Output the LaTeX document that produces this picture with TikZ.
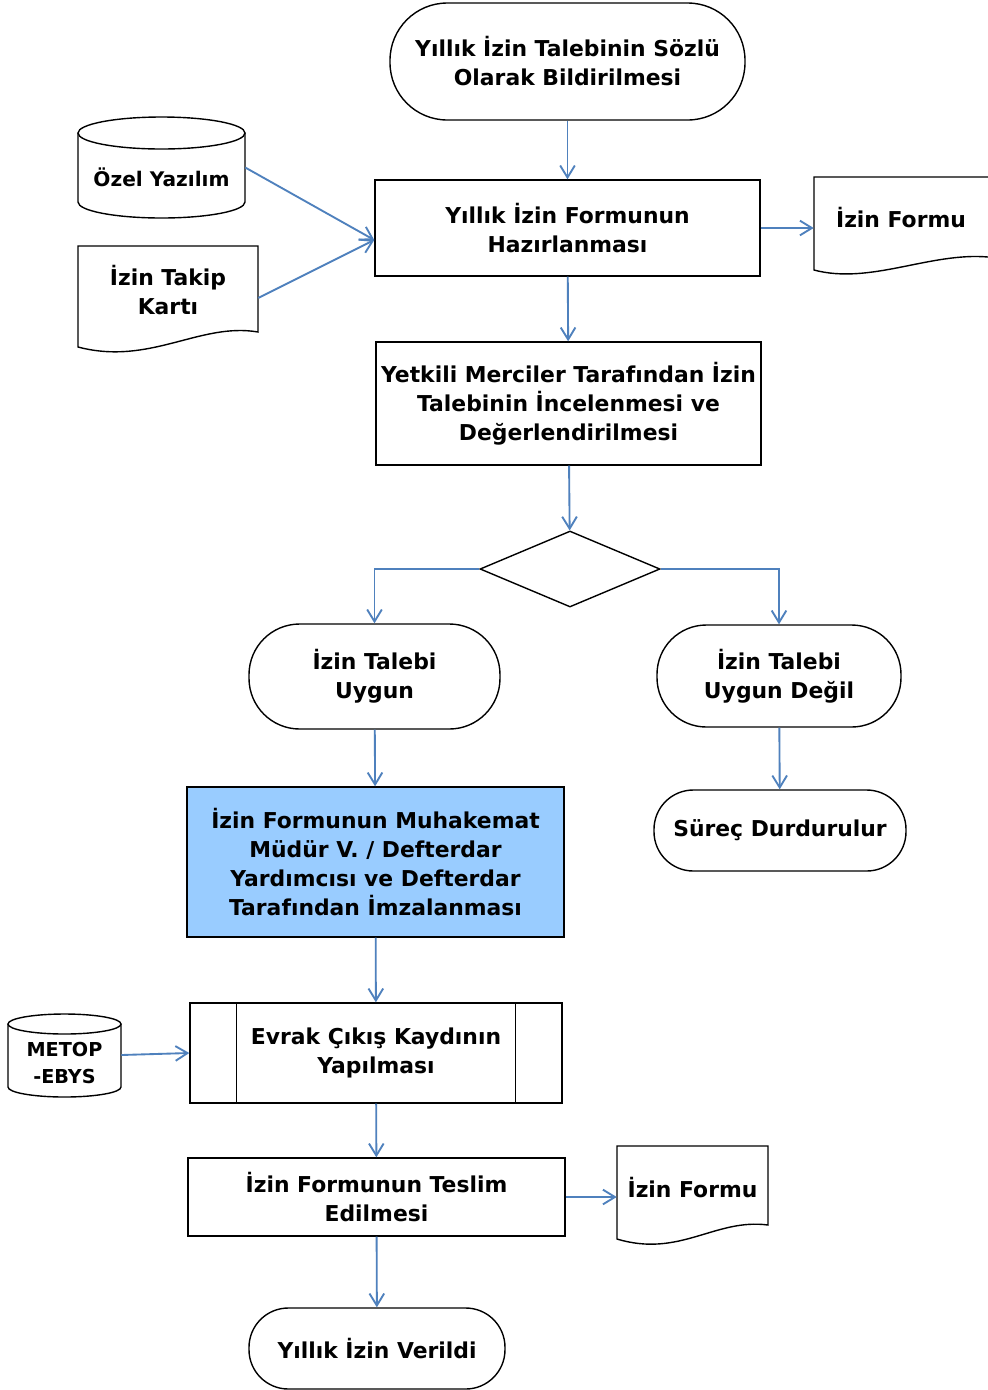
\documentclass[tikz,border=0pt]{standalone}
\usepackage{fontspec}
\setmainfont{DejaVu Sans}
\usetikzlibrary{arrows.meta,shapes.geometric}
\definecolor{lineblue}{HTML}{4F81BD}
\definecolor{fillblue}{HTML}{99CCFF}
\begin{document}
\begin{tikzpicture}[x=0.75pt,y=-0.75pt,
 txt/.style={font=\bfseries\fontsize{16.4}{21.75}\selectfont, align=center, inner sep=0pt},
 smalltxt/.style={txt, font=\bfseries\fontsize{14.4}{20.25}\selectfont},
 shp/.style={draw=black, line width=1.05pt},
 proc/.style={shp, txt, rectangle},
 term/.style={shp, txt, rectangle},
 ghost/.style={inner sep=0pt, draw=none},
 sz/.style 2 args={minimum width=#1*0.75pt, minimum height=#2*0.75pt},
 flow/.style={draw=lineblue, line width=1.4pt, -{Straight Barb[length=9pt,width=11pt]}},
]
\useasboundingbox (0,0) rectangle (988,1390);
\fill[white] (0,0) rectangle (988,1390);

% start terminal
\node[term, sz={355}{117}, rounded corners=43pt] (start) at (567.5,61.5) {Yıllık İzin Talebinin Sözlü\\Olarak Bildirilmesi};
\node[proc, sz={385}{96}] (form) at (567.5,228) {Yıllık İzin Formunun\\Hazırlanması};

% Ozel Yazilim cylinder
\node[ghost, sz={167}{101}] (ozel) at (161.5,167.5) {};
\draw[shp] (161.5,133) ellipse [x radius=62.625pt, y radius=12pt];
\draw[shp] (78,133) -- (78,202) arc[start angle=180, end angle=360, x radius=62.625pt, y radius=12pt] -- (245,133);
\node[txt, font=\bfseries\fontsize{15.1}{20}\selectfont] (ozelt) at (161.5,177) {Özel Yazılım};

% Izin Takip Karti document
\draw[shp] (78,246) -- (258,246) -- (258,332) .. controls (200,322) and (150,366) .. (78,347) -- cycle;
\node[txt, sz={180}{88}] (takip) at (168,290) {İzin Takip\\Kartı};

% Izin Formu document (top right)
\draw[shp] (988,177) -- (814,177) -- (814,270) .. controls (870,285) and (930,252) .. (988,257);
\node[txt, sz={174}{90}] (formA) at (901,218) {İzin Formu};

% evaluation
\node[proc, sz={385}{123}] (eval) at (568.5,403.5) {Yetkili Merciler Tarafından İzin\\Talebinin İncelenmesi ve\\Değerlendirilmesi};

% decision
\node[diamond, shp, sz={180}{76}, inner sep=0pt] (dec) at (570,569) {};

% outcomes
\node[term, sz={251}{105}, rounded corners=38pt] (ok) at (374.5,676.5) {İzin Talebi\\Uygun};
\node[term, sz={244}{102}, rounded corners=37pt] (nok) at (779,676) {İzin Talebi\\Uygun Değil};
\node[term, sz={252}{81}, rounded corners=29.5pt] (stop) at (780,830.5) {Süreç Durdurulur};

\node[proc, fill=fillblue, sz={377}{150}] (sign) at (375.5,862) {İzin Formunun Muhakemat\\Müdür V. / Defterdar\\Yardımcısı ve Defterdar\\Tarafından İmzalanması};

% predefined process
\node[proc, sz={372}{100}] (exit) at (376,1053) {Evrak Çıkış Kaydının\\Yapılması};
\draw[shp] ([xshift=35.25pt]exit.north west) -- ([xshift=35.25pt]exit.south west);
\draw[shp] ([xshift=-35.25pt]exit.north east) -- ([xshift=-35.25pt]exit.south east);

% METOP cylinder
\node[ghost, sz={113}{84}] (metop) at (64.5,1055) {};
\draw[shp] (64.5,1024) ellipse [x radius=42.375pt, y radius=7.5pt];
\draw[shp] (8,1024) -- (8,1087) arc[start angle=180, end angle=360, x radius=42.375pt, y radius=7.5pt] -- (121,1024);
\node[smalltxt] (metopt) at (64.5,1063) {METOP\\-EBYS};

\node[proc, sz={377}{78}] (deliver) at (376.5,1197) {İzin Formunun Teslim\\Edilmesi};

% Izin Formu document (bottom)
\draw[shp] (617,1146) -- (768,1146) -- (768,1225) .. controls (715,1218) and (680,1258) .. (617,1239) -- cycle;
\node[txt, sz={151}{80}] (formB) at (692.5,1188) {İzin Formu};

\node[term, sz={256}{81}, rounded corners=29.5pt] (fin) at (377,1348.5) {Yıllık İzin Verildi};

% connectors
\draw[flow] (start) -- (form);
\draw[flow] (ozel.east) -- ([yshift=-9pt]form.west);
\draw[flow] ([yshift=-6pt]takip.east) -- ([yshift=-9pt]form.west);
\draw[flow] (form.east) -- (form.east -| formA.west);
\draw[flow] (form) -- (eval);
\draw[flow] (eval) -- (dec);
\draw[flow] (dec.west) -| (ok.north);
\draw[flow] (dec.east) -| (nok.north);
\draw[flow] (ok) -- (sign);
\draw[flow] (nok) -- (stop);
\draw[flow] (sign) -- (exit);
\draw[flow] (metop.east) -- (exit.west);
\draw[flow] (exit) -- (deliver);
\draw[flow] (deliver.east) -- (deliver.east -| formB.west);
\draw[flow] (deliver) -- (fin);
\end{tikzpicture}
\end{document}
